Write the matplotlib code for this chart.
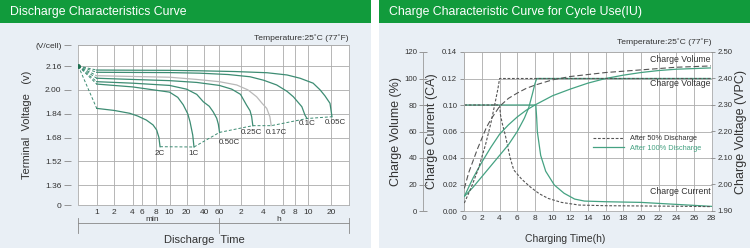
import numpy as np
import matplotlib
matplotlib.use('Agg')
import matplotlib.pyplot as plt
from matplotlib.patches import Rectangle

plt.rcParams['font.family'] = ['Liberation Sans', 'DejaVu Sans']

# ---------------- data: discharge curves (time in min, V/cell) ----------------
rates = ['2C', '1C', '0.50C', '0.25C', '0.17C', '0.1C', '0.05C']
t0_min, v0 = 0.5, 2.16  # common starting point

t_2c = [1, 2, 3.6, 5, 6.6, 7.6, 8.15, 8.45, 8.6]
v_2c = [1.876, 1.862, 1.843, 1.825, 1.798, 1.765, 1.731, 1.68, 1.619]
t_1c = [1, 4, 10, 14, 17.5, 21, 23, 25.6, 26.9]
v_1c = [2.039, 2.02, 1.985, 1.95, 1.90, 1.84, 1.786, 1.697, 1.617]
t_050 = [1, 4, 10, 20, 30, 39, 46, 51, 56, 58.5, 60.5]
v_050 = [2.055, 2.045, 2.03, 2.005, 1.97, 1.92, 1.89, 1.853, 1.81, 1.77, 1.715]
t_025 = [1, 4, 10, 30, 60, 90, 120, 144, 160, 168, 174]
v_025 = [2.078, 2.07, 2.062, 2.05, 2.03, 2.005, 1.97, 1.898, 1.86, 1.82, 1.76]
t_017 = [1, 4, 10, 30, 60, 106, 150, 195, 230, 257, 275, 283]
v_017 = [2.095, 2.09, 2.085, 2.07, 2.055, 2.033, 2.0, 1.954, 1.91, 1.876, 1.82, 1.76]
t_010 = [1, 4, 10, 34, 80, 160, 240, 318, 400, 462, 540, 570, 590]
v_010 = [2.118, 2.117, 2.116, 2.112, 2.103, 2.088, 2.065, 2.033, 1.99, 1.954, 1.887, 1.83, 1.808]
t_005 = [1, 4, 10, 34, 100, 259, 400, 524, 700, 864, 1000, 1164, 1234]
v_005 = [2.133, 2.132, 2.131, 2.128, 2.123, 2.115, 2.1, 2.078, 2.045, 2.0, 1.96, 1.91, 1.82]

time_ticks = [1, 2, 4, 6, 8, 10, 20, 40, 60, 120, 240, 360, 480, 600, 1200]
time_labels = ['1', '2', '4', '6', '8', '10', '20', '40', '60', '2', '4', '6', '8', '10', '20']
volt_ticks = [1.36, 1.52, 1.68, 1.84, 2.00, 2.16]

# ---------------- data: charge curves (hours) ----------------
h_cur50 = [0, 4, 4.1, 4.3, 4.65, 5.2, 5.6, 6.5, 7.5, 8.5, 9.5, 11, 13, 16, 20, 24, 28]
cur50 = [0.10, 0.10, 0.085, 0.072, 0.057, 0.04, 0.031, 0.024, 0.018, 0.013, 0.0095,
         0.0065, 0.0045, 0.004, 0.0038, 0.0036, 0.0033]
h_cur100 = [0, 8.1, 8.2, 8.27, 8.65, 9.22, 10.2, 11.3, 12.5, 13.6, 16, 20, 24, 28]
cur100 = [0.10, 0.10, 0.08, 0.06, 0.042, 0.030, 0.0196, 0.0134, 0.009, 0.0075,
          0.007, 0.0065, 0.005, 0.0035]

h_volt50 = [0, 0.8, 1.6, 2.4, 3.0, 3.5, 3.8, 4.0, 28]
volt50 = [1.93, 1.99, 2.06, 2.15, 2.23, 2.31, 2.36, 2.40, 2.40]
h_volt100 = [0, 1, 2, 3, 4, 5, 6, 6.8, 7.3, 7.7, 8.0, 8.2, 28]
volt100 = [1.955, 1.99, 2.03, 2.07, 2.11, 2.15, 2.20, 2.25, 2.29, 2.34, 2.38, 2.40, 2.40]

h_vol50 = [0, 0.5, 1, 1.5, 2, 2.5, 3, 4, 5, 6, 7, 8, 10, 12, 14, 16, 18, 20, 22, 24, 26, 28]
vol50 = [17, 29, 38, 47, 55, 63, 69, 79, 85, 89, 92.5, 95, 99, 101.5, 103, 104.5,
         105.5, 106.5, 107.5, 108.5, 109, 109.5]
h_vol100 = [0, 1, 2, 3, 4, 5, 6, 7, 8, 10, 12, 14, 16, 18, 20, 22, 24, 26, 28]
vol100 = [11, 25, 37, 48, 58, 65, 71, 76, 80, 87, 92, 96.5, 100, 102.5, 104.5, 106,
          107, 107.5, 108]

cur_ticks = [0.00, 0.02, 0.04, 0.06, 0.10, 0.12, 0.14]
vol_ticks = [0, 20, 40, 60, 80, 100, 120]
vpc_ticks = [1.90, 2.00, 2.10, 2.20, 2.30, 2.40, 2.50]

# ---------------- style ----------------
W, H = 750, 248
PX = 72 / 100  # points per pixel
header_green = '#119b3c'
panel_bg = '#e9eff5'
grid_c = '#ababab'
curve_c = '#3d8c73'
green_c = '#45a282'
dark_c = '#555555'
text_c = '#333333'

fig = plt.figure(figsize=(W / 100, H / 100), dpi=100)

# panels and header bars
for x0 in (0, 379):
    fig.add_artist(Rectangle((x0 / W, 0), 371 / W, 1, transform=fig.transFigure,
                             facecolor=panel_bg, edgecolor='none', zorder=0))
    fig.add_artist(Rectangle((x0 / W, 1 - 22.7 / H), 371 / W, 22.7 / H,
                             transform=fig.transFigure, facecolor=header_green,
                             edgecolor='none', zorder=0))
fig.text(10 / W, 1 - 11.5 / H, 'Discharge Characteristics Curve', color='white',
         fontsize=8.8, va='center')
fig.text(389 / W, 1 - 11.5 / H, 'Charge Characteristic Curve for Cycle Use(IU)',
         color='white', fontsize=8.8, va='center')

# ================= left chart =================
axL = fig.add_axes([78.3 / W, 43 / H, 270.7 / W, 160 / H])
knots_min = np.array([0.5, 1, 2, 4, 6, 8, 10, 20, 40, 60, 120, 240, 360, 480, 600, 1200, 2000])
knots_pos = np.array([0, 18.4, 36, 54.2, 63.4, 77.2, 91.2, 108.2, 125.7, 141, 162.2,
                      185.2, 204.2, 216.7, 229.7, 252.7, 270.7])
lk = np.log10(knots_min)


def t_fwd(t):
    t = np.clip(np.asarray(t, dtype=float), 1e-3, None)
    return np.interp(np.log10(t), lk, knots_pos)


def t_inv(p):
    return 10 ** np.interp(p, knots_pos, lk)


axL.set_xscale('function', functions=(t_fwd, t_inv))
axL.set_xlim(0.5, 2000)
v_lo, v_hi = 1.228, 2.301
axL.set_ylim(v_lo, v_hi)
axL.set_xticks(time_ticks)
axL.set_xticklabels(time_labels)
axL.set_yticks([v_lo] + volt_ticks + [v_hi])
axL.set_yticklabels(['0'] + ['%.2f' % v for v in volt_ticks] + ['(V/cell)'])
axL.tick_params(axis='x', length=0, pad=3, labelsize=6, labelcolor=text_c)
axL.tick_params(axis='y', length=7 * PX, width=0.6, color='#888888', pad=2,
                labelsize=6, labelcolor=text_c)
axL.grid(True, color=grid_c, lw=0.6)
axL.set_axisbelow(True)
for s in ('top', 'right', 'bottom'):
    axL.spines[s].set_color(grid_c)
    axL.spines[s].set_linewidth(0.6)
axL.spines['left'].set_position(('outward', 7 * PX))
axL.spines['left'].set_visible(False)
axL.axvline(0.5, color=grid_c, lw=0.6, zorder=1)

curves = [(t_2c, v_2c), (t_1c, v_1c), (t_050, v_050), (t_025, v_025),
          (t_017, v_017), (t_010, v_010), (t_005, v_005)]
label_off = [(0, -7), (0, -7), (10, -10), (-1, -7), (5, -7), (0, -5), (3, -6)]
ends_t, ends_v = [], []
for name, (tt, vv), off in zip(rates, curves, label_off):
    c = '#b9b9b9' if name == '0.17C' else curve_c
    axL.plot([t0_min, tt[0]], [v0, vv[0]], color=curve_c, lw=0.7, ls=(0, (3, 2)))
    axL.plot(tt, vv, color=c, lw=0.9)
    ends_t.append(tt[-1])
    ends_v.append(vv[-1])
    axL.annotate(name, xy=(tt[-1], vv[-1]), xytext=off, textcoords='offset pixels',
                 ha='center', va='center', fontsize=5.8, color=text_c)
axL.plot(ends_t, ends_v, color=curve_c, lw=0.7, ls=(0, (3, 2)))
axL.plot([t0_min], [v0], 'o', color='#1f6e50', ms=2.5)

axL.set_ylabel('Terminal  Voltage   (v)', fontsize=8, color=text_c)
axL.yaxis.set_label_coords(-0.17, 0.5)
axL.set_xlabel('Discharge  Time', fontsize=8, color=text_c)
axL.xaxis.set_label_coords(0.464, -0.185)
axL.text(1.0, 1.045, 'Temperature:25˚C (77˚F)', transform=axL.transAxes, ha='right',
         va='center', fontsize=6.1, color=text_c)

# min / h bracket under the axis
bx = axL.get_xaxis_transform()
axL.plot([0.5, 2000], [-0.11, -0.11], color='#888888', lw=0.6, transform=bx, clip_on=False)
for xb in (0.5, 60, 2000):
    axL.plot([xb, xb], [-0.08, -0.175], color='#888888', lw=0.6, transform=bx, clip_on=False)
axL.text(7.5, -0.112, 'min', transform=bx, ha='center', va='bottom', fontsize=6, color=text_c)
axL.text(330, -0.112, 'h', transform=bx, ha='center', va='bottom', fontsize=6, color=text_c)

# ================= right chart =================
axR = fig.add_axes([464.3 / W, 37 / H, 247.2 / W, 159 / H])
cur_pos = np.arange(len(cur_ticks), dtype=float)


def c_fwd(c):
    return np.interp(c, cur_ticks, cur_pos)


def c_inv(p):
    return np.interp(p, cur_pos, cur_ticks)


axR.set_yscale('function', functions=(c_fwd, c_inv))
axR.set_xlim(0, 28)
axR.set_ylim(0, 0.14)
axR.set_xticks(range(0, 29, 2))
axR.set_yticks(cur_ticks)
axR.set_yticklabels(['%.2f' % c for c in cur_ticks])
axR.tick_params(axis='x', length=0, pad=3, labelsize=6, labelcolor=text_c)
axR.tick_params(axis='y', length=3, width=0.6, color='#888888', pad=2,
                labelsize=5.6, labelcolor=text_c)
axR.grid(True, color=grid_c, lw=0.6)
axR.set_axisbelow(True)
for s in axR.spines.values():
    s.set_color(grid_c)
    s.set_linewidth(0.6)

ax_vol = axR.twinx()
ax_vol.set_ylim(0, 120)
ax_vol.set_yticks(vol_ticks)
ax_vol.yaxis.set_ticks_position('left')
ax_vol.yaxis.set_label_position('left')
ax_vol.spines['left'].set_position(('outward', 41 * PX))
ax_vol.spines['left'].set_visible(True)
for s in ('right', 'top', 'bottom'):
    ax_vol.spines[s].set_visible(False)
ax_vol.spines['left'].set_color('#999999')
ax_vol.spines['left'].set_linewidth(0.6)
ax_vol.tick_params(axis='y', direction='inout', length=6, width=0.6, color='#888888',
                   pad=1.5, labelsize=5.6, labelcolor=text_c)

ax_v = axR.twinx()
ax_v.set_ylim(1.90, 2.50)
ax_v.set_yticks(vpc_ticks)
ax_v.set_yticklabels(['%.2f' % v for v in vpc_ticks])
for s in ax_v.spines.values():
    s.set_visible(False)
ax_v.tick_params(axis='y', length=3, width=0.6, color='#888888', pad=1.5,
                 labelsize=5.6, labelcolor=text_c)

dash = (0, (2.5, 1.5))
# After 100% discharge (green)
l100, = axR.plot(h_cur100, cur100, color=green_c, lw=0.9)
ax_v.plot(h_volt100, volt100, color=green_c, lw=0.9)
ax_vol.plot(h_vol100, vol100, color=green_c, lw=0.9)
# After 50% discharge (dark dashed)
l50, = axR.plot(h_cur50, cur50, color=dark_c, lw=0.8, ls=dash)
ax_v.plot(h_volt50, volt50, color=dark_c, lw=0.8, ls=dash)
ax_vol.plot(h_vol50, vol50, color=dark_c, lw=0.8, ls=(0, (5, 2.5)))

leg = ax_v.legend([l50, l100], ['After 50% Discharge', 'After 100% Discharge'],
                  loc='upper left', bbox_to_anchor=(0.5, 0.51), frameon=False,
                  fontsize=5.3, handlelength=4.2, handletextpad=0.8, labelspacing=0.35,
                  borderpad=0.2)
leg.get_texts()[0].set_color(text_c)
leg.get_texts()[1].set_color(green_c)

for txt, y in (('Charge Volume', 0.95), ('Charge Voltage', 0.805), ('Charge Current', 0.12)):
    axR.text(0.995, y, txt, transform=axR.transAxes, ha='right', va='center',
             fontsize=6.3, color=text_c)

axR.set_ylabel('Charge Current (CA)', fontsize=9, color=text_c)
axR.yaxis.set_label_coords(-0.107, 0.5)
ax_vol.set_ylabel('Charge Volume (%)', fontsize=9, color=text_c)
ax_vol.yaxis.set_label_coords(-0.252, 0.5)
ax_v.set_ylabel('Charge Voltage (VPC)', fontsize=9, color=text_c)
ax_v.yaxis.set_label_coords(1.095, 0.5)
axR.set_xlabel('Charging Time(h)', fontsize=7.5, color=text_c)
axR.xaxis.set_label_coords(0.407, -0.145)
axR.text(1.0, 1.063, 'Temperature:25˚C (77˚F)', transform=axR.transAxes, ha='right',
         va='center', fontsize=6.1, color=text_c)

fig.savefig('out.png', dpi=100)
